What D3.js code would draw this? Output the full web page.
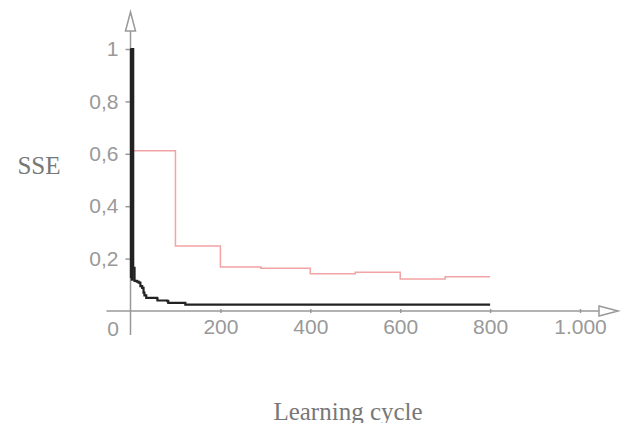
<!DOCTYPE html>
<html>
<head>
<meta charset="utf-8">
<title>SSE vs learning cycle</title>
<script src="https://cdn.jsdelivr.net/npm/d3@7"></script>
<style>
body {
	margin: 0;
	background-color: white;
}
.axis text {
	font-family: "Liberation Sans", Arial, sans-serif;
	font-size: 21px;
	fill: #999;
}
.axis line {
	stroke: #999;
	stroke-width: 1.5;
}
.title {
	font-family: "Liberation Serif", "Times New Roman", serif;
	font-size: 25px;
	fill: #777;
}
.line {
	fill: none;
}
</style>
</head>
<body>
<div id="graph"></div>
<script>
// learning cycle / SSE pairs (step curves);
// the first cycles swing between ~1 and ~0.12, giving the thick bar at 0
const blackCycles = [0, 1, 2, 3, 4, 6, 9, 14, 18, 22, 26, 29, 31, 35, 59, 60, 82, 84, 122, 800];
const blackSSE    = [1, 0.13, 1, 0.12, 1, 0.165, 0.115, 0.112, 0.108, 0.095, 0.088, 0.07, 0.06, 0.05, 0.048, 0.04, 0.038, 0.031, 0.024, 0.024];

const redCycles = [0, 100, 200, 290, 400, 500, 600, 700, 800];
const redSSE    = [0.612, 0.248, 0.168, 0.163, 0.142, 0.148, 0.122, 0.131, 0.131];

const xTicks = [200, 400, 600, 800, 1000];
const yTicks = [0.2, 0.4, 0.6, 0.8, 1];

(function() {
"use strict";
const width = 622, height = 423;
const locale = d3.formatLocale({decimal: ",", thousands: ".", grouping: [3], currency: ["", ""]});

const x = d3.scaleLinear([0, 1000], [130.5, 580]);
const y = d3.scaleLinear([0, 1], [311, 49]);

const svg = d3.select("#graph")
	.append("svg")
		.attr("width", width)
		.attr("height", height);

const axisColor = "#999";

// axis lines, extending past the origin, with open arrowheads
svg.append("line")
	.attr("x1", 106.5).attr("x2", 599)
	.attr("y1", y(0)).attr("y2", y(0))
	.attr("stroke", axisColor).attr("stroke-width", 1.5);
svg.append("line")
	.attr("x1", x(0)).attr("x2", x(0))
	.attr("y1", 335).attr("y2", 31)
	.attr("stroke", axisColor).attr("stroke-width", 1.5);
svg.append("path")
	.attr("d", `M${x(0)},12 L${x(0) - 5},31 L${x(0) + 5},31 Z`)
	.attr("fill", "white").attr("stroke", axisColor).attr("stroke-width", 1.5);
svg.append("path")
	.attr("d", `M618,${y(0)} L599,${y(0) - 5} L599,${y(0) + 5} Z`)
	.attr("fill", "white").attr("stroke", axisColor).attr("stroke-width", 1.5);

const xAxis = d3.axisBottom(x)
	.tickValues(xTicks)
	.tickSize(4)
	.tickPadding(6)
	.tickFormat(locale.format(","));
const gx = svg.append("g")
	.attr("class", "axis")
	.attr("transform", "translate(0," + (y(0) - 2) + ")")
	.call(xAxis);
gx.select(".domain").remove();

const yAxis = d3.axisLeft(y)
	.tickValues(yTicks)
	.tickSize(5)
	.tickPadding(7)
	.tickFormat(locale.format("~g"));
const gy = svg.append("g")
	.attr("class", "axis")
	.attr("transform", "translate(" + x(0) + ",0)")
	.call(yAxis);
gy.select(".domain").remove();

// the "0" at the origin sits left of the y axis
svg.append("text")
	.attr("x", 113).attr("y", 336)
	.attr("text-anchor", "middle")
	.style("font-family", "\"Liberation Sans\", Arial, sans-serif")
	.style("font-size", "21px")
	.style("fill", "#999")
	.text("0");

const stepLine = d3.line()
	.x(d => x(d[0]))
	.y(d => y(d[1]))
	.curve(d3.curveStepAfter);

const red = d3.zip(redCycles, redSSE);
const black = d3.zip(blackCycles, blackSSE);

svg.append("path")
	.attr("class", "line")
	.attr("stroke", "#f2a3a3")
	.attr("stroke-width", 1.5)
	.attr("d", stepLine(red));
svg.append("path")
	.attr("class", "line")
	.attr("stroke", "#222")
	.attr("stroke-width", 2.2)
	.attr("d", stepLine(black));

svg.append("text")
	.attr("class", "title")
	.attr("x", 39).attr("y", 174)
	.attr("text-anchor", "middle")
	.text("SSE");
svg.append("text")
	.attr("class", "title")
	.attr("x", 348).attr("y", 420)
	.attr("text-anchor", "middle")
	.text("Learning cycle");
})();
</script>
</body>
</html>
